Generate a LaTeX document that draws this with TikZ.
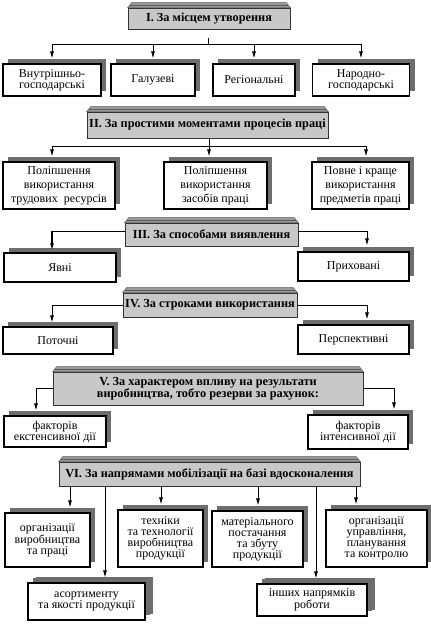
\documentclass[tikz,border=0pt]{standalone}
\usepackage{fontspec}
\setmainfont{Liberation Serif}
\usetikzlibrary{arrows.meta,calc,shadows}
\definecolor{cHead}{HTML}{C8C8C8}
\definecolor{cShade}{HTML}{6E6E6E}
\definecolor{cBevel}{HTML}{9A9A9A}

\begin{document}
\begin{tikzpicture}[x=1pt,y=-1pt,
      font=\fontsize{12}{11}\selectfont,
      head/.style={draw=black!80,fill=cHead,line width=.7pt,inner sep=1pt,align=center,
        font=\fontsize{12.3}{12.5}\selectfont\bfseries},
      kind/.style={draw,fill=white,line width=1.1pt,inner sep=1pt,align=center,
        general shadow={fill=cShade,shadow xshift=5pt,shadow yshift=5pt}},
      loose/.style={font=\fontsize{12}{14}\selectfont},
      bevel/.style={draw=black!65,fill=cBevel,line width=.5pt},
      link/.style={line width=.8pt},
      arr/.style={line width=.8pt,-{Latex[length=7pt,width=4pt]}}]
    \useasboundingbox (0,0) rectangle (431,625);

    % I
    \node[head,minimum width=162pt,minimum height=21pt] (h1) at (209,18.5) {I. За місцем утворення};
    \node[kind,minimum width=98pt,minimum height=32pt] (b1) at (52,80) {Внутрішньо-\\господарські};
    \node[kind,minimum width=84pt,minimum height=32pt] (b2) at (153,80) {Галузеві};
    \node[kind,minimum width=82pt,minimum height=32pt] (b3) at (254,80) {Регіональні};
    \node[kind,minimum width=97pt,minimum height=32pt] (b4) at (361,80) {Народно-\\господарські};
    \coordinate (j1) at (208,44);
    \draw[link] ([yshift=-9pt]h1.south -| j1) -- (j1);
    \draw[link] (b1.north |- j1) -- (b4.north |- j1);
    \foreach \b in {b1,b2,b3,b4}
      \draw[arr,shorten >=5pt] (\b.north |- j1) -- (\b.north);

    % II
    \node[head,minimum width=241pt,minimum height=26pt] (h2) at (207.5,125) {II. За простими моментами процесів праці};
    \node[kind,loose,minimum width=112pt,minimum height=47pt] (c1) at (59,185.5) {Поліпшення\\використання\\трудових~ ресурсів};
    \node[kind,loose,minimum width=103pt,minimum height=47pt] (c2) at (215.5,185.5) {Поліпшення\\використання\\засобів праці};
    \node[kind,loose,minimum width=97pt,minimum height=47pt] (c3) at (360.5,185.5) {Повне і краще\\використання\\предметів праці};
    \coordinate (j2a) at (52,146);
    \coordinate (j2b) at (209,146);
    \coordinate (j2c) at (366,146);
    \draw[link] (h2.south -| j2b) -- (j2b);
    \draw[link] (j2a) -- (j2c);
    \draw[arr,shorten >=5pt] (j2a) -- (j2a |- c1.north);
    \draw[arr,shorten >=5pt] (j2b) -- (j2b |- c2.north);
    \draw[arr,shorten >=5pt] (j2c) -- (j2c |- c3.north);

    % III
    \node[head,minimum width=173pt,minimum height=23pt] (h3) at (211.5,234.5) {III. За способами виявлення};
    \node[kind,minimum width=112pt,minimum height=29pt] (e1) at (60,267.5) {Явні};
    \node[kind,minimum width=111pt,minimum height=29pt] (e2) at (353.5,266.5) {Приховані};
    \draw[arr,line width=1.3pt,shorten >=2pt] ([yshift=3pt]h3.west) -| ([xshift=-8pt]e1.north);
    \draw[arr,shorten >=6pt] ([yshift=3pt]h3.east) -| ([xshift=13.5pt]e2.north);

    % IV
    \node[head,minimum width=174pt,minimum height=24pt] (h4) at (210,305) {IV. За строками використання};
    \node[kind,minimum width=110pt,minimum height=27pt] (f1) at (58,340.5) {Поточні};
    \node[kind,minimum width=111pt,minimum height=29pt] (f2) at (353.5,339.5) {Перспективні};
    \draw[arr,shorten >=4pt] (h4.west) -| ([xshift=-6pt]f1.north);
    \draw[arr,shorten >=5pt] (h4.east) -| ([xshift=13.5pt]f2.north);

    % V
    \node[head,minimum width=310pt,minimum height=33pt] (h5) at (208,388.5) {V. За характером впливу на результати\\виробництва, тобто резерви за рахунок:};
    \node[kind,minimum width=102pt,minimum height=31pt] (g1) at (55,431.5) {факторів\\екстенсивної дії};
    \node[kind,minimum width=100pt,minimum height=34pt] (g2) at (358,432) {факторів\\інтенсивної дії};
    \draw[arr,shorten >=5pt] (h5.west) -| ([xshift=-19pt]g1.north);
    \draw[arr,shorten >=5pt] (h5.east) -| ([xshift=36pt]g2.north);

    % VI
    \node[head,minimum width=301pt,minimum height=24pt] (h6) at (209.5,474) {VI. За напрямами мобілізації на базі вдосконалення};
    \node[kind,minimum width=85pt,minimum height=54pt] (k1) at (47.5,540) {організації\\виробництва\\та праці};
    \node[kind,minimum width=117pt,minimum height=37pt,general shadow={fill=cShade,shadow xshift=8pt,shadow yshift=6pt}] (k2) at (86.5,601.5) {асортименту\\та якості продукції};
    \node[kind,minimum width=85pt,minimum height=57pt] (k3) at (160.5,538.5) {техніки\\та технології\\виробництва\\продукції};
    \node[kind,minimum width=91pt,minimum height=56pt] (k4) at (257.5,539) {матеріального\\постачання\\та збуту\\продукції};
    \node[kind,minimum width=110pt,minimum height=32pt,general shadow={fill=cShade,shadow xshift=8pt,shadow yshift=6pt}] (k5) at (312,600) {інших напрямків\\роботи};
    \node[kind,minimum width=101pt,minimum height=57pt] (k6) at (376.5,538.5) {організації\\управління,\\планування\\та контролю};
    \foreach \xx/\k in {70/k1,105/k2,161/k3,258/k4,316/k5,356/k6} {
      \coordinate (s) at (\xx,486);
      \draw[arr,shorten >=5pt] (s) -- (s |- \k.north);
    }

    % bevelled tops of the headers
    \foreach \h in {h1,h2,h3,h4,h5,h6} {
      \draw[bevel] (\h.north west) -- ($(\h.north west)+(4,-5)$) -- ($(\h.north east)+(-4,-5)$) -- (\h.north east) -- cycle;
      \draw[black!65,line width=.4pt] ($(\h.north west)+(2,-2.5)$) -- ($(\h.north east)+(-2,-2.5)$);
    }
  \end{tikzpicture}
\end{document}
